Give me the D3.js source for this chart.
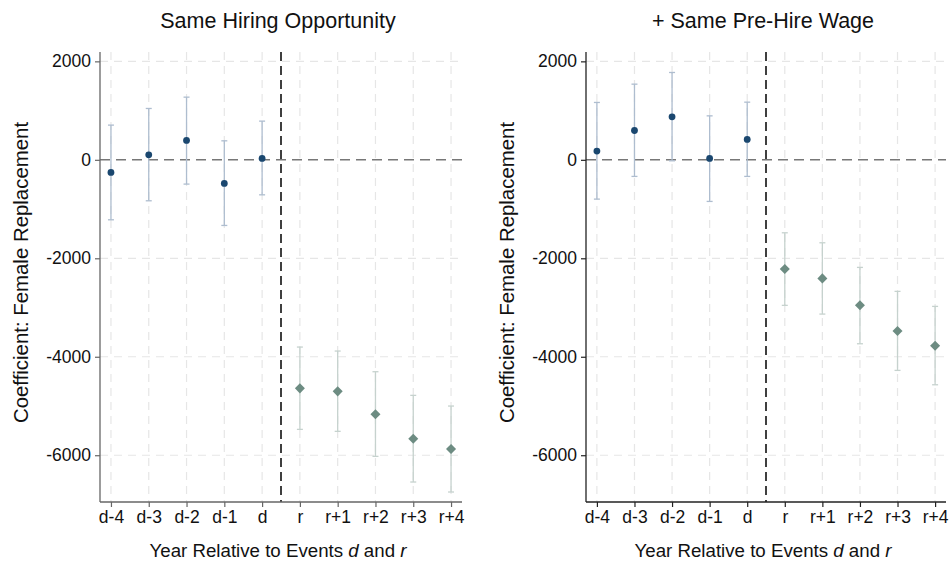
<!DOCTYPE html>
<html>
<head>
<meta charset="utf-8">
<script src="https://cdn.jsdelivr.net/npm/d3@7"></script>
<style>
  html, body { margin: 0; padding: 0; background: #fff; }
  svg { display: block; font-family: "Liberation Sans", Arial, sans-serif; }
</style>
</head>
<body>
<svg id="chart" width="950" height="568"></svg>
<script>
// Event-time labels on the x axis
const periods = ["d-4", "d-3", "d-2", "d-1", "d", "r", "r+1", "r+2", "r+3", "r+4"];
const yTicks = [2000, 0, -2000, -4000, -6000];

// Panel 1: same hiring opportunity
const coefA  = [-256, 102, 394, -479, 28, -4642, -4703, -5170, -5665, -5874];
const upperA = [705, 1043, 1273, 386, 786, -3803, -3884, -4304, -4784, -5001];
const lowerA = [-1218, -832, -493, -1333, -711, -5475, -5515, -6023, -6544, -6747];

// Panel 2: additionally matched on pre-hire wage
const coefB  = [177, 596, 873, 28, 414, -2219, -2408, -2956, -3478, -3777];
const upperB = [1165, 1537, 1774, 893, 1171, -1482, -1685, -2185, -2672, -2977];
const lowerB = [-798, -337, -20, -845, -337, -2956, -3133, -3736, -4277, -4569];

const panels = [
  { title: "Same Hiring Opportunity", coef: coefA, upper: upperA, lower: lowerA,
    x0: 100, x1: 462, axisColor: "#666" },
  { title: "+ Same Pre-Hire Wage", coef: coefB, upper: upperB, lower: lowerB,
    x0: 586, x1: 946, axisColor: "#222" }
];

const plotTop = 52, plotBottom = 502;
const navy = "#1a476f", navyCI = "#aebdcf";
const sage = "#6d8c82", sageCI = "#c6d2ce";

const svg = d3.select("#chart");
const y = d3.scaleLinear().domain([-6950, 2190]).range([plotBottom, plotTop]);

panels.forEach(p => {
  const x = d3.scaleLinear().domain([-0.29, 9.29]).range([p.x0, p.x1]);
  const g = svg.append("g");
  const rows = periods.map((lab, i) => ({
    lab, i, c: p.coef[i], hi: p.upper[i], lo: p.lower[i], pre: i < 5
  }));

  // grid lines
  g.append("g").selectAll("line").data(periods).join("line")
    .attr("x1", (d, i) => x(i)).attr("x2", (d, i) => x(i))
    .attr("y1", plotTop).attr("y2", plotBottom)
    .attr("stroke", "#e6e6e6").attr("stroke-width", 1.2)
    .attr("stroke-dasharray", "8,6");
  g.append("g").selectAll("line").data(yTicks.filter(v => v !== 0)).join("line")
    .attr("x1", p.x0).attr("x2", p.x1)
    .attr("y1", d => y(d)).attr("y2", d => y(d))
    .attr("stroke", "#e6e6e6").attr("stroke-width", 1.2)
    .attr("stroke-dasharray", "8,6");

  // zero reference line
  g.append("line")
    .attr("x1", p.x0).attr("x2", p.x1).attr("y1", y(0)).attr("y2", y(0))
    .attr("stroke", "#777").attr("stroke-width", 1.5)
    .attr("stroke-dasharray", "10,6");

  // divider between events d and r
  g.append("line")
    .attr("x1", x(4.5)).attr("x2", x(4.5)).attr("y1", plotTop).attr("y2", plotBottom)
    .attr("stroke", "#000").attr("stroke-width", 1.5)
    .attr("stroke-dasharray", "9,5");

  // confidence intervals
  const ci = g.append("g").selectAll("g").data(rows).join("g")
    .attr("stroke", d => d.pre ? navyCI : sageCI).attr("stroke-width", 1.3);
  ci.append("line")
    .attr("x1", d => x(d.i)).attr("x2", d => x(d.i))
    .attr("y1", d => y(d.hi)).attr("y2", d => y(d.lo));
  ci.append("line")
    .attr("x1", d => x(d.i) - 3).attr("x2", d => x(d.i) + 3)
    .attr("y1", d => y(d.hi)).attr("y2", d => y(d.hi));
  ci.append("line")
    .attr("x1", d => x(d.i) - 3).attr("x2", d => x(d.i) + 3)
    .attr("y1", d => y(d.lo)).attr("y2", d => y(d.lo));

  // point estimates
  g.append("g").selectAll("circle").data(rows.filter(d => d.pre)).join("circle")
    .attr("cx", d => x(d.i)).attr("cy", d => y(d.c)).attr("r", 3.4)
    .attr("fill", navy);
  g.append("g").selectAll("path").data(rows.filter(d => !d.pre)).join("path")
    .attr("d", d3.symbol(d3.symbolDiamond2, 64))
    .attr("transform", d => `translate(${x(d.i)},${y(d.c)})`)
    .attr("fill", sage);

  // axes
  const yAxis = g.append("g").attr("transform", `translate(${p.x0},0)`)
    .call(d3.axisLeft(y).tickValues(yTicks).tickFormat(d => String(d))
      .tickSize(5).tickPadding(4));
  const xAxis = g.append("g").attr("transform", `translate(0,${plotBottom})`)
    .call(d3.axisBottom(x).tickValues(d3.range(periods.length))
      .tickFormat(i => periods[i]).tickSize(5).tickPadding(4));
  [yAxis, xAxis].forEach(a => {
    a.select(".domain").attr("stroke", p.axisColor).attr("stroke-width", 1.3)
      .attr("d", a === yAxis ? `M0,${plotTop}V${plotBottom}` : `M${p.x0},0H${p.x1}`);
    a.selectAll(".tick line").attr("stroke", p.axisColor).attr("stroke-width", 1.2);
    a.selectAll("text").attr("font-size", 17.5).attr("fill", "#111")
      .attr("font-family", "Liberation Sans, Arial, sans-serif");
  });

  const cx = (p.x0 + p.x1) / 2 - 3;
  // panel title
  g.append("text").attr("x", cx).attr("y", 28).attr("text-anchor", "middle")
    .attr("font-size", 21.5).attr("fill", "#111").text(p.title);

  // x axis title with italic event markers
  const xt = g.append("text").attr("x", cx).attr("y", 557).attr("text-anchor", "middle")
    .attr("font-size", 18.7).attr("fill", "#111");
  xt.append("tspan").text("Year Relative to Events ");
  xt.append("tspan").attr("font-style", "italic").text("d");
  xt.append("tspan").text(" and ");
  xt.append("tspan").attr("font-style", "italic").text("r");

  // y axis title
  g.append("text")
    .attr("transform", `translate(${p.x0 - 72},272.5) rotate(-90)`)
    .attr("text-anchor", "middle").attr("font-size", 20.4).attr("fill", "#111")
    .text("Coefficient: Female Replacement");
});
</script>
</body>
</html>
